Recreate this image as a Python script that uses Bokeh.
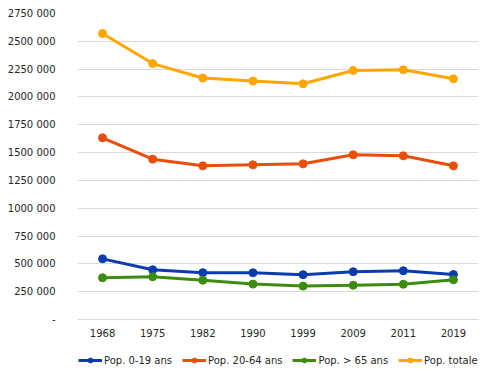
from bokeh.plotting import figure
from bokeh.models import FixedTicker, CustomJSTickFormatter, Legend, LegendItem
from bokeh.embed import file_html
from bokeh.resources import INLINE

years = ["1968", "1975", "1982", "1990", "1999", "2009", "2011", "2019"]
pop_0_19 = [545000, 447000, 421000, 420000, 403000, 429000, 438000, 404000]
pop_20_64 = [1633000, 1441000, 1381000, 1390000, 1399000, 1480000, 1471000, 1381000]
pop_65 = [375000, 384000, 353000, 318000, 300000, 308000, 317000, 357000]
pop_tot = [2570000, 2300000, 2170000, 2143000, 2118000, 2238000, 2244000, 2163000]
y_ticks = [0, 250000, 500000, 750000, 1000000, 1250000, 1500000, 1750000,
           2000000, 2250000, 2500000, 2750000]

series = [
    ("Pop. 0-19 ans", pop_0_19, "#0a3cb0"),
    ("Pop. 20-64 ans", pop_20_64, "#e84e0c"),
    ("Pop. > 65 ans", pop_65, "#3d8c10"),
    ("Pop. totale", pop_tot, "#ffa600"),
]

FONT = "DejaVu Sans"

# extra room below zero holds the category labels and the legend
p = figure(x_range=years, y_range=(-422400, 2750000), width=479, height=366,
           output_backend="svg", toolbar_location=None,
           min_border_left=77, min_border_right=1, min_border_top=13, min_border_bottom=0)
p.outline_line_color = None
p.background_fill_color = "white"
p.border_fill_color = "white"

items = []
for label, vals, color in series:
    r1 = p.line(years, vals, line_color=color, line_width=3)
    r2 = p.scatter(years, vals, size=8, fill_color=color, line_color=color)
    items.append(LegendItem(label=label, renderers=[r1, r2]))

p.yaxis.ticker = FixedTicker(ticks=y_ticks)
p.yaxis.formatter = CustomJSTickFormatter(code="""
if (tick == 0) { return "-"; }
const th = Math.floor(tick / 1000000);
const rest = Math.round(tick - th * 1000000);
if (th == 0) {
  const a = Math.floor(rest / 1000);
  return a + " 000";
}
let r = String(Math.floor(rest / 1000));
while (r.length < 3) r = "0" + r;
return th + r + " 000";
""")
p.yaxis.axis_line_color = None
p.yaxis.major_tick_line_color = None
p.yaxis.minor_tick_line_color = None
p.yaxis.major_label_standoff = 16

p.xaxis.fixed_location = 0
p.xaxis.axis_line_color = "#d9d9d9"
p.xaxis.major_tick_line_color = None
p.xaxis.minor_tick_line_color = None
p.xaxis.major_tick_out = 0
p.xaxis.major_tick_in = 0
p.xaxis.major_label_standoff = 10
for ax in (p.xaxis, p.yaxis):
    ax.major_label_text_font = FONT
    ax.major_label_text_font_size = "10px"
    ax.major_label_text_color = "#262626"

p.xgrid.grid_line_color = None
p.ygrid.grid_line_color = "#d9d9d9"
p.ygrid.grid_line_width = 1

legend = Legend(items=items, orientation="horizontal", location=(1, 0),
                label_text_font=FONT, label_text_font_size="10px",
                label_text_color="#262626", glyph_width=24, glyph_height=12,
                label_height=12, label_standoff=2, spacing=10, padding=0, margin=0,
                border_line_color=None, background_fill_alpha=0)
p.add_layout(legend, "center")

open("out.html", "w").write(file_html(p, INLINE))
